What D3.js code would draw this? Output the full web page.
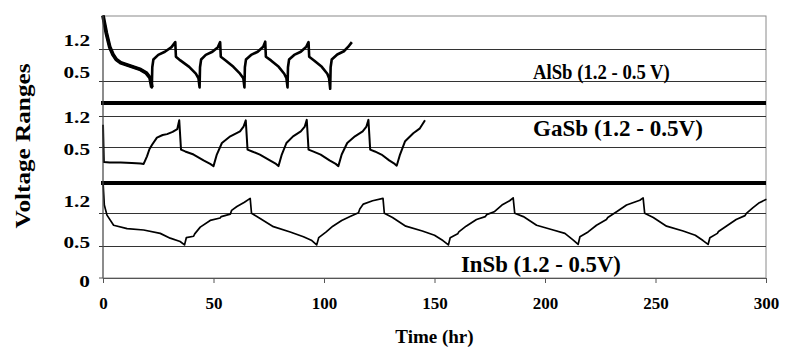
<!DOCTYPE html>
<html>
<head>
<meta charset="utf-8">
<script src="https://cdn.jsdelivr.net/npm/d3@7"></script>
<style>
  body { margin: 0; background: #fff; }
  text { font-family: "Liberation Serif", "Times New Roman", serif; font-weight: bold; fill: #000; }
</style>
</head>
<body>
<div id="chart"></div>
<script>
// time in hr, voltage in V
var alsb = [
    [0,1.93],[0.5,1.8],[1.5,1.55],[3,1.25],[4.5,1.08],[6,0.97],[8,0.9],[11,0.85],[14,0.8],[17,0.75],[19.5,0.68],[21.3,0.57],[22.1,0.36],
    [22.3,0.8],[22.8,0.97],[25,1.07],[28,1.14],[31,1.24],[32.7,1.35],
    [33.0,1.03],[35,0.95],[39,0.81],[42,0.66],[43.2,0.56],[43.7,0.36],
    [43.9,0.8],[44.4,0.97],[46.5,1.07],[49.5,1.14],[52,1.24],[53,1.35],
    [53.3,1.03],[55.5,0.95],[59,0.81],[62,0.66],[63.5,0.56],[64,0.36],
    [64.2,0.8],[64.7,0.97],[67,1.07],[70,1.14],[72.5,1.25],[73.4,1.36],
    [73.7,1.03],[76,0.95],[79.5,0.81],[82,0.66],[83,0.56],[83.5,0.36],
    [83.7,0.8],[84.2,0.97],[86.5,1.07],[89.5,1.14],[92,1.25],[93,1.35],
    [93.3,1.03],[95.5,0.95],[99,0.81],[101.5,0.66],[102.3,0.56],[102.8,0.33],
    [103,0.8],[103.5,0.97],[106,1.08],[109,1.15],[111,1.25],[112.6,1.35]
];

var gasb = [
    [0,1.0],[0.4,0.16],[3,0.15],[8,0.15],[13,0.14],[17,0.13],[18.4,0.12],
    [19.9,0.29],[21,0.45],[22.2,0.55],[24.4,0.71],[27,0.77],[29,0.79],[31.5,0.84],[33.6,0.9],[34.5,1.1],
    [35.3,0.44],[37.2,0.4],[41,0.33],[45.5,0.2],[48.5,0.12],[50,0.07],
    [51.5,0.33],[53.8,0.59],[57.6,0.74],[62,0.85],[63.6,0.96],[64.6,1.1],
    [65.4,0.44],[67.5,0.4],[71,0.33],[75.5,0.2],[78.3,0.12],[79.4,0.07],
    [80.9,0.33],[83,0.59],[86,0.74],[89.5,0.85],[91.3,0.96],[92.2,1.11],
    [93,0.44],[95,0.4],[98.5,0.33],[102.5,0.2],[105.3,0.12],[106.5,0.07],
    [108,0.33],[110.5,0.59],[114,0.74],[117.5,0.85],[119.2,0.96],[120.1,1.11],
    [120.9,0.44],[123,0.4],[126,0.33],[129.5,0.2],[132,0.12],[132.9,0.08],
    [134.4,0.33],[136.7,0.63],[140.4,0.81],[143.4,0.92],[145.7,1.1]
];

var insb = [
    [0,1.85],[0.6,1.36],[1.8,1.15],[4.8,0.94],[10.9,0.87],[18.4,0.84],[25.9,0.77],[30.4,0.67],[34.9,0.6],[36.9,0.53],
    [37.7,0.68],[41,0.71],[41.5,0.76],[44,0.9],[48.5,1.04],[53,1.09],[53.5,1.12],[57.6,1.17],[58.2,1.25],[60.6,1.33],[64,1.42],[66.6,1.5],
    [67.2,1.19],[71.1,1.08],[77.1,0.91],[84.7,0.8],[90.7,0.7],[94.5,0.62],[96.7,0.53],
    [97.6,0.68],[101,0.8],[104,0.92],[108,1.04],[111.8,1.12],[115.6,1.2],[116.2,1.28],[117.8,1.38],[122,1.45],[126.7,1.5],
    [127.3,1.19],[131,1.1],[137,0.92],[144.5,0.82],[150,0.73],[153.8,0.62],[156.3,0.53],
    [157.1,0.68],[160.5,0.76],[161,0.8],[164.3,0.92],[169,1.06],[173,1.12],[173.6,1.16],[177,1.22],[180.5,1.36],[184,1.45],[185.6,1.51],
    [186.3,1.19],[190.2,1.12],[196.2,0.94],[203.7,0.84],[209,0.77],[212.8,0.63],[215,0.54],
    [215.8,0.7],[219.5,0.8],[223.3,0.94],[227.8,1.06],[228.4,1.1],[232.4,1.22],[236.9,1.36],[242.9,1.46],[244.4,1.51],
    [245.1,1.19],[249,1.1],[255,0.92],[262.5,0.82],[268,0.73],[271.5,0.62],[273.8,0.54],
    [274.6,0.68],[278,0.77],[278.5,0.81],[282,0.92],[286.5,1.06],[290.5,1.14],[291,1.18],[294,1.3],[297,1.41],[300.2,1.48]
];

var panelNames = ["AlSb (1.2 - 0.5 V)", "GaSb (1.2 - 0.5V)", "InSb (1.2 - 0.5V)"];
var gridValues = [1.2, 0.5];
var xTicks = [0, 50, 100, 150, 200, 250, 300];
var xTitle = "Time (hr)";
var yTitle = "Voltage Ranges";

var width = 786,
    height = 363,
    margin = { left: 103, right: 20, top: 16, bottom: 85 };

// each stacked panel has its own voltage scale
// firstLeg: how many leading points (the first discharge) are drawn heavier
var panels = [
    { data: alsb, top: 16,  bottom: 103, domain: [0.02, 1.92],  stroke: 2.6, firstLeg: 13, labelShift: [-9, -9],  nameAt: [533, 79],  nameSize: 22, nameLen: 137 },
    { data: gasb, top: 103, bottom: 183, domain: [-0.31, 1.49], stroke: 2,   firstLeg: 0,  labelShift: [1, 2],    nameAt: [533, 136], nameSize: 23, nameLen: 170 },
    { data: insb, top: 183, bottom: 278, domain: [-0.16, 1.82], stroke: 1.7, firstLeg: 0,  labelShift: [-12, -4], nameAt: [461, 272], nameSize: 23, nameLen: 160 }
];

// stretch a text horizontally so it covers a given width
function fitWidth(sel, px, py, len, rotate) {
    var w = sel.node().getComputedTextLength();
    sel.attr("transform", "translate(" + px + "," + py + ")" + (rotate ? " rotate(-90)" : "") + " scale(" + (len / w) + ",1)");
}

var svg = d3.select("#chart").append("svg")
    .attr("width", width)
    .attr("height", height);

var x = d3.scaleLinear()
    .domain([0, 300])
    .range([margin.left, width - margin.right]);

var plotBottom = panels[2].bottom;

// outer frame (thin grey)
svg.append("rect")
    .attr("x", x(0))
    .attr("y", margin.top)
    .attr("width", x(300) - x(0))
    .attr("height", plotBottom - margin.top)
    .attr("fill", "none")
    .attr("stroke", "#8a8a8a")
    .attr("stroke-width", 1);

panels.forEach(function(p, i) {
    var y = d3.scaleLinear().domain(p.domain).range([p.bottom, p.top]);
    var line = d3.line()
        .x(function(d) { return x(d[0]); })
        .y(function(d) { return y(d[1]); });

    var g = svg.append("g").attr("class", "panel");

    g.selectAll(".grid").data(gridValues).enter().append("line")
        .attr("class", "grid")
        .attr("x1", x(0) - 4)
        .attr("x2", x(300))
        .attr("y1", function(d) { return Math.round(y(d)) + 0.5; })
        .attr("y2", function(d) { return Math.round(y(d)) + 0.5; })
        .attr("stroke", "#333")
        .attr("stroke-width", 1);

    g.selectAll(".ylab").data(gridValues).enter().append("text")
        .attr("class", "ylab")
        .attr("text-anchor", "end")
        .attr("dy", "0.35em")
        .style("font-size", "17px")
        .attr("transform", function(d, j) {
            return "translate(90," + (y(d) + p.labelShift[j]) + ") scale(1.25,1)";
        })
        .text(function(d) { return d; });

    g.append("path")
        .datum(p.data)
        .attr("fill", "none")
        .attr("stroke", "#000")
        .attr("stroke-width", p.stroke)
        .attr("stroke-linejoin", "round")
        .attr("d", line);

    if (p.firstLeg) {
        g.append("path")
            .datum(p.data.slice(0, p.firstLeg))
            .attr("fill", "none")
            .attr("stroke", "#000")
            .attr("stroke-width", 3.8)
            .attr("stroke-linejoin", "round")
            .attr("d", line);
    }

    var name = g.append("text")
        .style("font-size", p.nameSize + "px")
        .text(panelNames[i]);
    fitWidth(name, p.nameAt[0], p.nameAt[1], p.nameLen);
});

// thick separators between panels
svg.selectAll(".sep").data(panels.slice(1)).enter().append("line")
    .attr("class", "sep")
    .attr("x1", x(0) - 2)
    .attr("x2", x(300))
    .attr("y1", function(d) { return d.top; })
    .attr("y2", function(d) { return d.top; })
    .attr("stroke", "#000")
    .attr("stroke-width", 4);

// y axis line
svg.append("line")
    .attr("x1", x(0)).attr("x2", x(0))
    .attr("y1", margin.top).attr("y2", plotBottom)
    .attr("stroke", "#555").attr("stroke-width", 1);

// bottom axis
var xAxis = d3.axisBottom(x).tickValues(xTicks).tickSize(5).tickPadding(14).tickSizeOuter(0);
var xg = svg.append("g")
    .attr("transform", "translate(0," + plotBottom + ")")
    .call(xAxis);
xg.select(".domain").attr("stroke", "#555");
xg.selectAll(".tick line").attr("stroke", "#555");
xg.selectAll(".tick text")
    .style("font-size", "17px")
    .style("font-family", "Liberation Serif, serif")
    .style("font-weight", "bold")
    .attr("fill", "#000");

// the "0" at the foot of the voltage axis
svg.append("text")
    .attr("text-anchor", "end")
    .attr("dy", "0.35em")
    .style("font-size", "17px")
    .attr("transform", "translate(90," + (plotBottom + 3) + ") scale(1.25,1)")
    .text("0");

svg.append("line")
    .attr("x1", x(0) - 4).attr("x2", x(0))
    .attr("y1", plotBottom).attr("y2", plotBottom)
    .attr("stroke", "#555");

svg.append("text")
    .attr("x", (x(0) + x(300)) / 2)
    .attr("y", 343)
    .attr("text-anchor", "middle")
    .style("font-size", "19px")
    .text(xTitle);

var yt = svg.append("text")
    .attr("text-anchor", "middle")
    .style("font-size", "21px")
    .text(yTitle);
fitWidth(yt, 30, 146, 165, true);
</script>
</body>
</html>
